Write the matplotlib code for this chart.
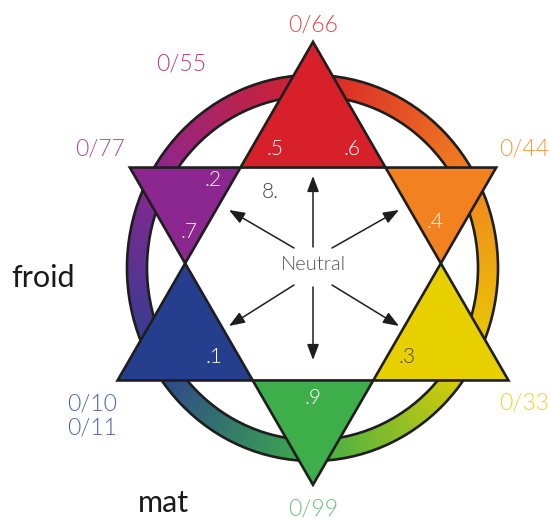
import numpy as np
import matplotlib
matplotlib.use("Agg")
import matplotlib.pyplot as plt
from matplotlib.patches import Polygon, Ellipse
from matplotlib.colors import to_rgb

# ---------------- data ----------------
segment_names = ["red", "orange", "yellow", "green", "blue", "purple"]
segment_colors = ["#D7202A", "#F28220", "#E8D000", "#3DAE4A", "#253F8E", "#8C278F"]
segment_angles = [90, 30, 330, 270, 210, 150]          # direction of each star point (deg)

outer_labels = ["0/66", "0/55", "0/77", "0/44", "0/10\n0/11", "0/33", "0/99"]
outer_label_colors = ["#E8474F", "#B8387E", "#A54AB0", "#F59A3A", "#4C62AE", "#F2D22E", "#6CC27A"]
outer_label_pos = [(313, 25), (181, 64), (100, 149), (524, 149), (67, 416), (524, 403), (313, 509)]

inner_labels = [".5", ".6", ".2", ".7", "8.", ".4", ".1", ".3", ".9"]
inner_label_colors = ["white", "white", "white", "white", "#444444", "white", "white", "#4a4a20", "white"]
inner_label_pos = [(275, 149), (352, 149), (213, 180), (189, 232), (270, 192),
                   (435, 222), (214, 357), (407, 357), (313, 398)]

side_words = ["froid", "mat"]
side_word_pos = [(43, 278), (163, 503)]

# ---------------- figure ----------------
W, H = 550, 518
fig = plt.figure(figsize=(W / 100, H / 100), dpi=100)
ax = fig.add_axes([0, 0, 1, 1])
ax.set_xlim(0, W)
ax.set_ylim(H, 0)
ax.axis("off")

# ring geometry
rcx, rcy = 312.5, 268.0
rx_out, ry_out = 185.5, 193.0
rx_in, ry_in = 165.5, 172.0

# gradient ring via image
S = 2
xs = (np.arange(W * S) + 0.5) / S
ys = (np.arange(H * S) + 0.5) / S
X, Y = np.meshgrid(xs, ys)
dx = X - rcx
dy = -(Y - rcy)
theta = np.degrees(np.arctan2(dy / ry_out, dx / rx_out))
theta = np.where(theta < 30, theta + 360, theta)
stop_ang = np.array([30, 90, 150, 210, 270, 330, 390])
order = [segment_angles.index(a % 360) for a in [30, 90, 150, 210, 270, 330, 30]]
stop_col = np.array([to_rgb(segment_colors[i]) for i in order])
stop_col[3] = np.array(to_rgb("#2C3F91"))
img = np.zeros((H * S, W * S, 4))
for c in range(3):
    img[..., c] = np.interp(theta, stop_ang, stop_col[:, c])
rout = (dx / rx_out) ** 2 + (dy / ry_out) ** 2
rin = (dx / rx_in) ** 2 + (dy / ry_in) ** 2
img[..., 3] = ((rout <= 1.0) & (rin >= 1.0)).astype(float)
ax.imshow(img, extent=(0, W, H, 0), origin="upper", interpolation="bilinear", zorder=1)
for rx, ry in [(rx_out, ry_out), (rx_in, ry_in)]:
    ax.add_patch(Ellipse((rcx, rcy), 2 * rx, 2 * ry, fill=False, ec="#1e1e1e", lw=1.9, zorder=2))

# triangles
up_c, up_R = (313.0, 267.6), 225.7
dn_c, dn_R = (313.0, 273.3), 211.5


def tri(c, R, angs):
    return [np.array([c[0] + R * np.cos(np.radians(a)), c[1] - R * np.sin(np.radians(a))]) for a in angs]


U_top, U_left, U_right = tri(up_c, up_R, [90, 210, 330])
D_bot, D_right, D_left = tri(dn_c, dn_R, [270, 30, 150])


def inter(p1, p2, p3, p4):
    d1 = p2 - p1
    d2 = p4 - p3
    A = np.array([[d1[0], -d2[0]], [d1[1], -d2[1]]])
    t, _ = np.linalg.solve(A, p3 - p1)
    return p1 + t * d1


P1 = inter(D_left, D_right, U_top, U_left)
P2 = inter(D_left, D_right, U_top, U_right)
P3 = inter(U_top, U_right, D_right, D_bot)
P4 = inter(D_right, D_bot, U_left, U_right)
P5 = inter(U_left, U_right, D_left, D_bot)
P6 = inter(D_left, D_bot, U_top, U_left)

points = {
    "red": [U_top, P2, P1],
    "orange": [D_right, P3, P2],
    "yellow": [U_right, P4, P3],
    "green": [D_bot, P5, P4],
    "blue": [U_left, P6, P5],
    "purple": [D_left, P1, P6],
}
for name, col in zip(segment_names, segment_colors):
    ax.add_patch(Polygon(np.array(points[name]), closed=True, fc=col, ec="none", zorder=3))
for verts in ([U_top, U_left, U_right], [D_bot, D_right, D_left]):
    ax.add_patch(Polygon(np.array(verts), closed=True, fill=False, ec="#1e1e1e", lw=1.9,
                         joinstyle="miter", zorder=4))

# arrows from Neutral
arrow_tails = [(313, 247), (313, 287), (294, 248), (332, 248), (294, 285), (332, 285)]
arrow_tips = [(313, 176), (313, 360), (229, 210), (399, 210), (229, 326), (399, 326)]
for t, h in zip(arrow_tails, arrow_tips):
    ax.annotate("", xy=h, xytext=t,
                arrowprops=dict(arrowstyle="-|>,head_length=0.95,head_width=0.36",
                                color="#1e1e1e", lw=1.1, shrinkA=0, shrinkB=0), zorder=5)

fam = ["Lato", "DejaVu Sans"]
ax.text(313, 265, "Neutral", ha="center", va="center", fontsize=14.5, color="#555555",
        family=fam, fontweight=300, zorder=6)

for txt, col, (x, y) in zip(outer_labels, outer_label_colors, outer_label_pos):
    ha = "left" if "\n" in txt else "center"
    ax.text(x, y, txt, ha=ha, va="center", fontsize=16.5, color=col, family=fam,
            fontweight=300, linespacing=1.15, zorder=6)

for txt, col, (x, y) in zip(inner_labels, inner_label_colors, inner_label_pos):
    ax.text(x, y, txt, ha="center", va="center", fontsize=15, color=col, family=fam,
            fontweight=300, zorder=6)

for txt, (x, y) in zip(side_words, side_word_pos):
    ax.text(x, y, txt, ha="center", va="center", fontsize=22, color="#1a1a1a", family=fam, zorder=6)

fig.savefig("out.png", dpi=100)
